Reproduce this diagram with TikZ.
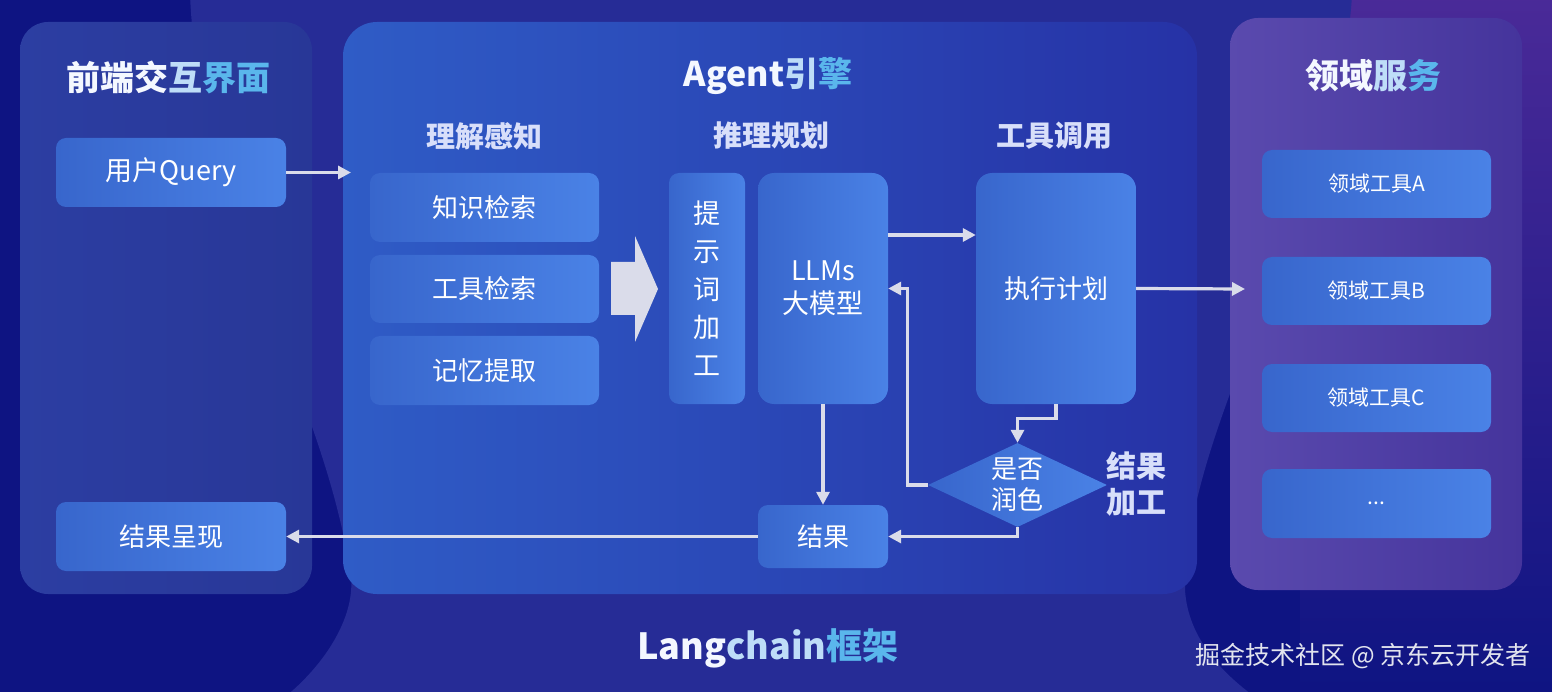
\documentclass[tikz,border=0pt]{standalone}
\usepackage{fontspec}
\setmainfont{Noto Sans CJK SC}
\usetikzlibrary{shapes.geometric,arrows.meta}
\definecolor{bgdark}{HTML}{0E1482}
\definecolor{bgblob}{HTML}{262C96}
\definecolor{bgpurple}{HTML}{4A2A98}
\definecolor{lpanelA}{HTML}{2C3EA2}
\definecolor{lpanelB}{HTML}{283797}
\definecolor{mpanelA}{HTML}{2F5CC6}
\definecolor{mpanelB}{HTML}{2632A6}
\definecolor{rpanelA}{HTML}{5A4AAE}
\definecolor{rpanelB}{HTML}{45349C}
\definecolor{boxA}{HTML}{3866CC}
\definecolor{boxB}{HTML}{4A82E6}
\definecolor{conncol}{HTML}{DADCEA}
\definecolor{tw}{HTML}{F4F8FF}
\definecolor{tl}{HTML}{BEDDF8}
\definecolor{tc}{HTML}{5AB6EC}
\definecolor{hdr}{HTML}{D8DFFA}
\definecolor{wm}{HTML}{E2E4EE}
\tikzset{
  panel/.style={rounded corners=28pt, inner sep=0pt, draw=none},
  box/.style={rounded corners=10pt, left color=boxA, right color=boxB, draw=none,
    text=white, inner sep=0pt, align=center, font=\fontsize{26}{32}\selectfont},
  smallbox/.style={box, font=\fontsize{21}{26}\selectfont},
  conn/.style={draw=conncol, line width=3.2pt, -{Triangle[length=13pt,width=13pt]}},
  title/.style={font=\bfseries\fontsize{34}{40}\selectfont, inner sep=0pt},
  hdrtext/.style={font=\bfseries\fontsize{29}{34}\selectfont, text=hdr, inner sep=0pt, align=center},
}
\begin{document}
\begin{tikzpicture}[x=1pt,y=-1pt]
\useasboundingbox (0,0) rectangle (1552,692);
% background
\fill[bgdark] (0,0) rectangle (1552,692);
\shade[top color=bgpurple, bottom color=bgdark] (1300,-5) rectangle (1557,697);
\fill[bgblob] (190,-5) -- (1352,-5) .. controls (1340,200) and (1185,420) .. (1185,590)
  .. controls (1188,640) and (1225,675) .. (1255,697) -- (285,697)
  .. controls (330,660) and (358,610) .. (350,570) .. controls (320,380) and (200,220) .. (190,-5);
\fill[bgdark, opacity=0.5] (0,-5) rectangle (180,697);

% panels
\node[panel, left color=lpanelA, right color=lpanelB, minimum width=292pt, minimum height=572pt] (lp) at (166,308) {};
\node[panel, rounded corners=34pt, left color=mpanelA, right color=mpanelB, minimum width=854pt, minimum height=572pt] (mp) at (770,308) {};
\node[panel, left color=rpanelA, right color=rpanelB, minimum width=292pt, minimum height=572pt] (rp) at (1376,304) {};

% titles
\node[title] (t1) at (168,77) {{\color{tw}前端交}{\color{tl}互}{\color{tc}界面}};
\node[title] (t2) at (768,76) {{\color{tw}Agent}{\color{tl}引}{\color{tc}擎}};
\node[title] (t3) at (1373,76) {{\color{tw}领域}{\color{tl}服}{\color{tc}务}};
\node[title, font=\bfseries\fontsize{36}{42}\selectfont] (t4) at (768,648) {{\color{tw}Lang}{\color{tl}chain}{\color{tc}框架}};

\node[hdrtext] (h1) at (484,136) {理解感知};
\node[hdrtext] (h2) at (771,136) {推理规划};
\node[hdrtext] (h3) at (1054,136) {工具调用};
\node[hdrtext, font=\bfseries\fontsize{30}{36}\selectfont] (h4) at (1136,484) {结果\\加工};

% left column
\node[box, minimum width=230pt, minimum height=69pt, font=\fontsize{27}{32}\selectfont] (query) at (171,172.5) {用户Query};
\node[box, minimum width=230pt, minimum height=69pt] (show) at (171,536.5) {结果呈现};

% middle
\node[box, minimum width=229pt, minimum height=69pt] (know) at (484.5,207.5) {知识检索};
\node[box, minimum width=229pt, minimum height=68pt] (tool) at (484.5,289) {工具检索};
\node[box, minimum width=229pt, minimum height=69pt] (mem) at (484.5,370.5) {记忆提取};
\fill[conncol] (611,262) -- (635,262) -- (635,236) -- (658,289) -- (635,342) -- (635,315) -- (611,315) -- cycle;
\node[box, minimum width=76pt, minimum height=231pt, font=\fontsize{27}{38}\selectfont] (prompt) at (707,288.5) {提\\示\\词\\加\\工};
\node[box, rounded corners=16pt, minimum width=130pt, minimum height=231pt, font=\fontsize{27}{33}\selectfont] (llm) at (823,288.5) {LLMs\\大模型};
\node[box, rounded corners=16pt, minimum width=160pt, minimum height=231pt] (exec) at (1056,288.5) {执行计划};
\node[box, minimum width=130pt, minimum height=63pt] (res) at (823,536.5) {结果};
\node[diamond, left color=boxA, right color=boxB, inner sep=0pt, minimum width=179pt, minimum height=84pt] (dia) at (1017.5,485) {};
\node[text=white, align=center, font=\fontsize{26}{31}\selectfont] (diat) at (1017.5,485) {是否\\润色};

% right
\node[smallbox, minimum width=229pt, minimum height=68pt] (da) at (1376.5,184) {领域工具A};
\node[smallbox, minimum width=229pt, minimum height=68pt] (db) at (1376.5,291) {领域工具B};
\node[smallbox, minimum width=229pt, minimum height=68pt] (dc) at (1376.5,398) {领域工具C};
\node[smallbox, minimum width=229pt, minimum height=69pt] (dd) at (1376.5,503.5) {...};

% connectors
\coordinate (qend) at (351,172.5);
\coordinate (dend) at (1245,289);
\draw[conn] (query.east) -- (qend);
\draw[conn] ([yshift=53.5pt]llm.east) -- ([yshift=53.5pt]exec.west);
\draw[conn] (exec.east) -- (dend);
\draw[conn] (exec.south) -- ++(0,14) -| (dia.north);
\draw[conn] (dia.west) -| ([xshift=19pt]llm.east) -- (llm.east);
\draw[conn] (dia.south) |- (res.east);
\draw[conn] (llm.south) -- (res.north);
\draw[conn] (res.west) -- (show.east);

% watermark
\node[text=wm, font=\fontsize{25}{29}\selectfont, inner sep=0pt] (wmk) at (1363,656) {掘金技术社区 @ 京东云开发者};
\end{tikzpicture}
\end{document}
